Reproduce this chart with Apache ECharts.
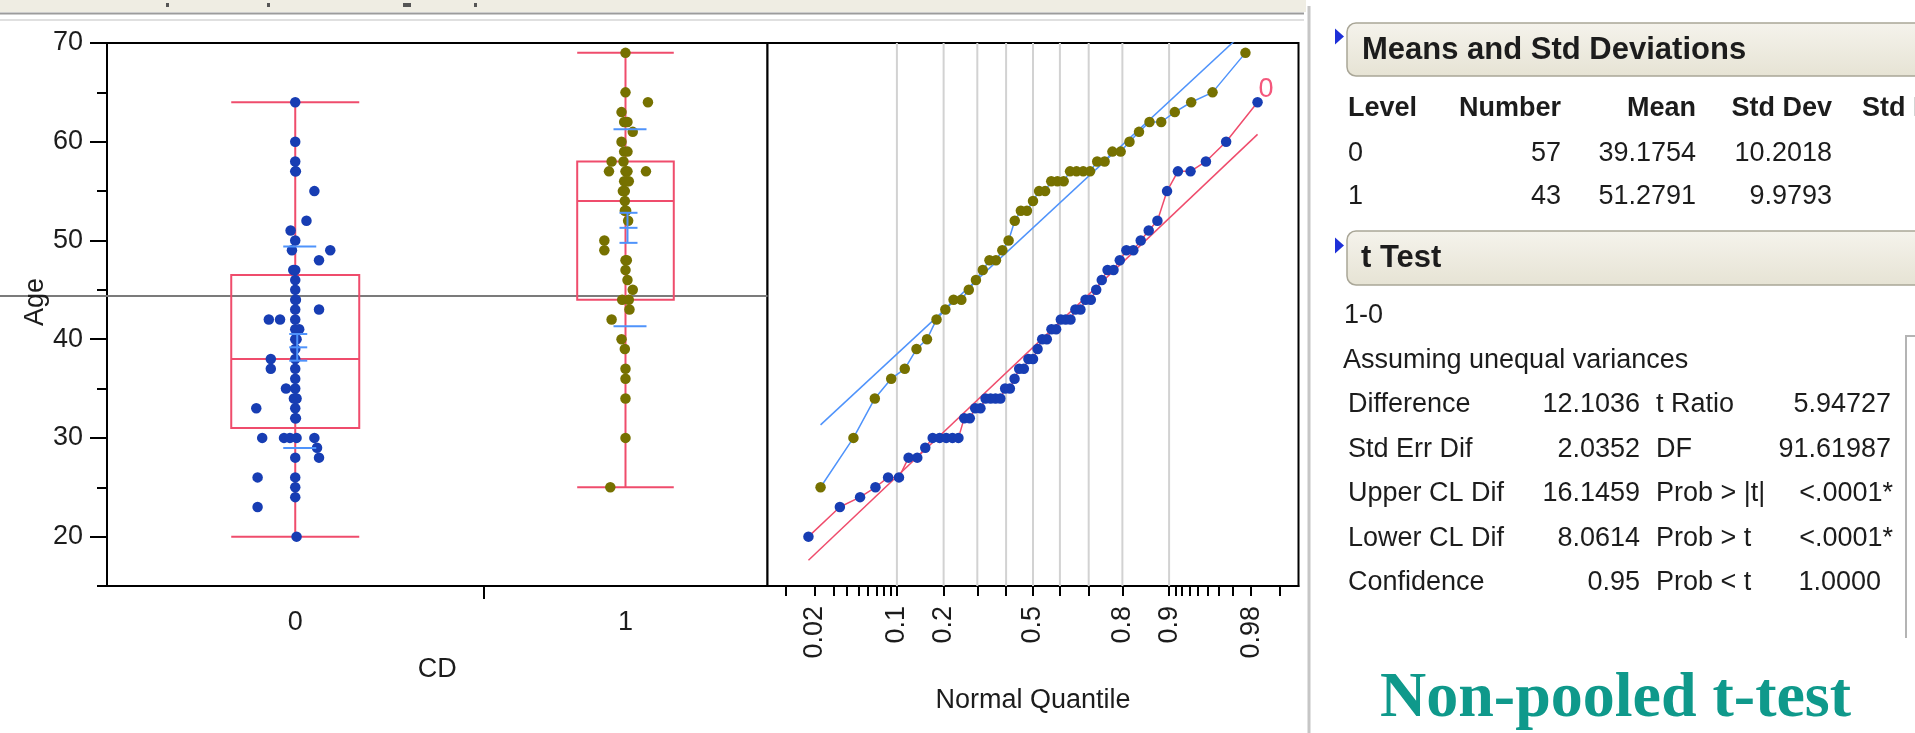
<!DOCTYPE html>
<html><head><meta charset="utf-8">
<script src="https://cdn.jsdelivr.net/npm/echarts@6/dist/echarts.min.js"></script>
<style>html,body{margin:0;padding:0;background:#fff;overflow:hidden}#c{width:1915px;height:733px}</style>
</head><body><div id="c"></div>
<script>
// ---------------- data ----------------
const groups = ['0', '1'];
const counts = [57, 43];
const age0 = [20,23,24,25,26,26,28,28,29,30,30,30,30,30,32,32,33,33,34,34,34,34,35,35,36,37,37,38,38,39,40,40,41,41,42,42,42,43,43,44,44,45,46,47,47,48,49,49,50,51,52,55,57,57,58,60,64];
const jitter0 = [0.2,-5.7,0,0,-5.7,0,0,3.6,3.3,-5.0,-1.7,-0.8,0.2,2.9,0,0.1,-5.9,0,0,0.2,-0.2,0.1,-1.4,0,0,-3.7,0,-3.7,0,0,0,0.2,0.6,0,-4.0,-2.3,0,3.6,0,0,0.1,0,0,-0.3,0,3.6,-0.5,5.3,0,-0.7,1.7,2.9,0,0.1,0,0,0];
const age1 = [25,30,34,36,37,39,40,42,43,44,44,45,46,47,48,48,49,50,52,53,53,54,55,55,56,56,56,57,57,57,57,58,58,59,59,60,61,62,62,63,64,65,69];
const jitter1 = [-2.3,0,0,0,0,-0.1,-0.6,-2.1,0.6,-0.5,0.5,1.1,0.3,0,0,0.2,-3.2,-3.2,0.4,-0.1,0.1,-0.1,-0.4,-0.1,-0.2,0.5,0.2,-2.5,0,3.1,0.3,-2.1,-0.3,-0.2,0.3,-0.6,1.1,-0.2,0.3,-0.6,3.4,0,0];
const means = [39.1754, 51.2791];
const stdDevs = [10.2018, 9.9793];
const yMajorTicks = [20, 30, 40, 50, 60, 70];
const yMinorTicks = [15, 25, 35, 45, 55, 65];
const probLabels = [0.02, 0.1, 0.2, 0.5, 0.8, 0.9, 0.98];
const probGrid = [0.1, 0.2, 0.3, 0.4, 0.5, 0.6, 0.7, 0.8, 0.9];
const probTicks = [0.01,0.02,0.03,0.04,0.05,0.06,0.07,0.08,0.09,0.1,0.2,0.3,0.4,0.5,0.6,0.7,0.8,0.9,0.91,0.92,0.93,0.94,0.95,0.96,0.97,0.98,0.99];
const tableHeader = ['Level', 'Number', 'Mean', 'Std Dev', 'Std Err'];
const ttestLabels = ['Difference', 'Std Err Dif', 'Upper CL Dif', 'Lower CL Dif', 'Confidence'];
const ttestValues = ['12.1036', '2.0352', '16.1459', '8.0614', '0.95'];
const ttestLabels2 = ['t Ratio', 'DF', 'Prob > |t|', 'Prob > t', 'Prob < t'];
const ttestValues2 = ['5.94727', '91.61987', '<.0001*', '<.0001*', '1.0000'];

// ---------------- helpers ----------------
function qnorm(p) {
  const a=[-3.969683028665376e+01,2.209460984245205e+02,-2.759285104469687e+02,1.383577518672690e+02,-3.066479806614716e+01,2.506628277459239e+00];
  const b=[-5.447609879822406e+01,1.615858368580409e+02,-1.556989798598866e+02,6.680131188771972e+01,-1.328068155288572e+01];
  const c=[-7.784894002430293e-03,-3.223964580411365e-01,-2.400758277161838e+00,-2.549671010229416e+00,4.374664141464968e+00,2.938163982698783e+00];
  const d=[7.784695709041462e-03,3.224671290700398e-01,2.445134137142996e+00,3.754408661907416e+00];
  const pl=0.02425, ph=1-pl; let q, r;
  if (p < pl) { q=Math.sqrt(-2*Math.log(p)); return (((((c[0]*q+c[1])*q+c[2])*q+c[3])*q+c[4])*q+c[5])/((((d[0]*q+d[1])*q+d[2])*q+d[3])*q+1); }
  if (p <= ph) { q=p-0.5; r=q*q; return (((((a[0]*r+a[1])*r+a[2])*r+a[3])*r+a[4])*r+a[5])*q/(((((b[0]*r+b[1])*r+b[2])*r+b[3])*r+b[4])*r+1); }
  q=Math.sqrt(-2*Math.log(1-p)); return -(((((c[0]*q+c[1])*q+c[2])*q+c[3])*q+c[4])*q+c[5])/((((d[0]*q+d[1])*q+d[2])*q+d[3])*q+1);
}
function quant(s, p) {
  const n = s.length, pos = p*(n+1), lo = Math.floor(pos), f = pos-lo;
  if (lo < 1) return s[0]; if (lo >= n) return s[n-1];
  return s[lo-1] + f*(s[lo]-s[lo-1]);
}
const ages = [age0, age1];
const jitters = [jitter0, jitter1];
const total = counts[0] + counts[1];
const starts = [0, counts[0]];
const centers = counts.map((n, i) => starts[i] + n/2);
const BOX_FRAC = 0.34;
const boxData = ages.map((arr, g) => {
  const s = arr.slice().sort((x, y) => x - y);
  const q1 = quant(s, 0.25), md = quant(s, 0.5), q3 = quant(s, 0.75), iqr = q3 - q1;
  const lo = s.find(v => v >= q1 - 1.5*iqr), hi = s.filter(v => v <= q3 + 1.5*iqr).pop();
  return [centers[g], q1, md, q3, lo, hi, BOX_FRAC*counts[g]/2];
});
const meanData = means.map((m, g) => [centers[g], m, stdDevs[g], stdDevs[g]/Math.sqrt(counts[g])]);
const grandMean = (means[0]*counts[0] + means[1]*counts[1]) / total;

const BLUE = '#173db3', OLIVE = '#767100', RED = '#ef4c6c', LBLUE = '#4f93fb';
const PT_COLORS = [BLUE, OLIVE], LINE_COLORS = [RED, LBLUE];
const FONT = '"Liberation Sans", Arial, sans-serif';
const TXT = '#1c1c1c';
const DOT = 10.5;

function renderBox(params, api) {
  const cx = api.coord([api.value(0), api.value(2)])[0];
  const hw = api.size([api.value(6), 0])[0];
  const y = v => api.coord([api.value(0), v])[1];
  const q1 = y(api.value(1)), md = y(api.value(2)), q3 = y(api.value(3)), lo = y(api.value(4)), hi = y(api.value(5));
  const st = {stroke: RED, lineWidth: 2};
  return {type: 'group', children: [
    {type: 'line', shape: {x1: cx, y1: lo, x2: cx, y2: hi}, style: st},
    {type: 'line', shape: {x1: cx-hw, y1: lo, x2: cx+hw, y2: lo}, style: st},
    {type: 'line', shape: {x1: cx-hw, y1: hi, x2: cx+hw, y2: hi}, style: st},
    {type: 'rect', shape: {x: cx-hw, y: q3, width: 2*hw, height: q1-q3}, style: {stroke: RED, lineWidth: 2, fill: 'transparent'}},
    {type: 'line', shape: {x1: cx-hw, y1: md, x2: cx+hw, y2: md}, style: st}
  ]};
}
function renderMean(params, api) {
  const cx = api.coord([api.value(0), 40])[0];
  const m = api.value(1), s = api.value(2), se = api.value(3);
  const y = v => api.coord([api.value(0), v])[1];
  const st = {stroke: LBLUE, lineWidth: 2};
  const h = (yy, a, b) => ({type: 'line', shape: {x1: cx+a, y1: yy, x2: cx+b, y2: yy}, style: st});
  return {type: 'group', children: [
    h(y(m+s), -12, 21), h(y(m-s), -12, 21), h(y(m+se), -6, 12), h(y(m), -6, 12), h(y(m-se), -6, 12),
    {type: 'line', shape: {x1: cx+2, y1: y(m+se), x2: cx+2, y2: y(m-se)}, style: st}
  ]};
}
function renderGridLine(params, api) {
  const cs = params.coordSys;
  const x = api.coord([api.value(0), 40])[0];
  return {type: 'line', shape: {x1: x, y1: cs.y, x2: x, y2: cs.y + cs.height}, style: {stroke: '#d2d2d2', lineWidth: 2}};
}

const series = [];
series.push({type: 'custom', xAxisIndex: 0, yAxisIndex: 0, z: 2, silent: true, renderItem: renderBox, data: boxData, encode: {x: 0, y: 2}});
ages.forEach((arr, g) => series.push({
  type: 'scatter', xAxisIndex: 0, yAxisIndex: 0, z: 3, symbol: 'circle', symbolSize: DOT, silent: true,
  itemStyle: {color: PT_COLORS[g], opacity: 1},
  data: arr.map((v, i) => [centers[g] + jitters[g][i], v])
}));
series.push({type: 'custom', xAxisIndex: 0, yAxisIndex: 0, z: 4, silent: true, renderItem: renderMean, data: meanData, encode: {x: 0, y: 1}});

// Normal quantile plot
series.push({type: 'custom', xAxisIndex: 1, yAxisIndex: 2, z: 1, silent: true, renderItem: renderGridLine, data: probGrid.map(p => [qnorm(p), 40]), encode: {x: 0, y: 1}});
ages.forEach((arr, g) => {
  const s = arr.slice().sort((x, y) => x - y), n = s.length;
  const pts = s.map((v, i) => [qnorm((i+1)/(n+1)), v]);
  const z1 = pts[0][0], zn = pts[n-1][0];
  series.push({type: 'line', xAxisIndex: 1, yAxisIndex: 2, z: 2, silent: true, showSymbol: false, symbol: 'none',
    lineStyle: {color: LINE_COLORS[g], width: 1.5},
    data: [[z1, means[g] + stdDevs[g]*z1], [zn, means[g] + stdDevs[g]*zn]]});
  series.push({type: 'line', xAxisIndex: 1, yAxisIndex: 2, z: 3, silent: true, showSymbol: false, symbol: 'none',
    lineStyle: {color: LINE_COLORS[g], width: 1.5}, data: pts,
    endLabel: g === 0 ? {show: true, formatter: groups[g], color: '#f4587c', fontSize: 27, fontFamily: FONT, offset: [-7, -13]} : {show: false}});
  series.push({type: 'scatter', xAxisIndex: 1, yAxisIndex: 2, z: 4, symbol: 'circle', symbolSize: DOT, silent: true,
    itemStyle: {color: PT_COLORS[g], opacity: 1}, data: pts});
});

const labelStyle = {fontSize: 27, fontFamily: FONT, color: TXT};
const chart = echarts.init(document.getElementById('c'), null, {renderer: 'canvas'});
chart.setOption({
  animation: false,
  backgroundColor: '#ffffff',
  grid: [
    {left: 107, top: 43, width: 660.5, height: 543, show: true, borderColor: '#000', borderWidth: 2, backgroundColor: '#fff'},
    {left: 767.5, top: 43, width: 531, height: 543, show: true, borderColor: '#000', borderWidth: 2, backgroundColor: '#fff'}
  ],
  xAxis: [
    {gridIndex: 0, type: 'value', min: 0, max: total, position: 'bottom',
      axisLine: {show: true, onZero: false, lineStyle: {color: '#000', width: 2}},
      axisTick: {show: true, customValues: [counts[0]], length: 13, lineStyle: {color: '#000', width: 2}},
      axisLabel: Object.assign({customValues: centers, margin: 23,
        formatter: v => groups[centers.findIndex(c => Math.abs(c - v) < 1e-6)] || ''}, labelStyle),
      splitLine: {show: false},
      name: 'CD', nameLocation: 'middle', nameGap: 70, nameTextStyle: labelStyle},
    {gridIndex: 1, type: 'value', min: -2.5, max: 2.5, position: 'bottom',
      axisLine: {show: true, onZero: false, lineStyle: {color: '#000', width: 2}},
      axisTick: {show: true, customValues: probTicks.map(qnorm), length: 10, lineStyle: {color: '#000', width: 2}},
      axisLabel: Object.assign({customValues: probLabels.map(qnorm), rotate: 90, margin: 20,
        formatter: v => { let b = 0; probLabels.forEach((p, i) => { if (Math.abs(qnorm(p) - v) < Math.abs(qnorm(probLabels[b]) - v)) b = i; }); return String(probLabels[b]); }}, labelStyle),
      splitLine: {show: false},
      name: 'Normal Quantile', nameLocation: 'middle', nameGap: 101, nameTextStyle: labelStyle}
  ],
  yAxis: [
    {gridIndex: 0, type: 'value', min: 15, max: 70, interval: 5, position: 'left', offset: 0,
      axisLine: {show: true, lineStyle: {color: '#000', width: 2}},
      axisTick: {show: true, customValues: yMajorTicks, length: 17, lineStyle: {color: '#000', width: 2}},
      axisLabel: Object.assign({customValues: yMajorTicks, margin: 24}, labelStyle),
      splitLine: {show: false}},
    {gridIndex: 0, type: 'value', min: 15, max: 70, interval: 5, position: 'left', offset: 0,
      axisLine: {show: false},
      axisTick: {show: true, customValues: yMinorTicks, length: 10, lineStyle: {color: '#000', width: 2}},
      axisLabel: {show: false}, splitLine: {show: false}},
    {gridIndex: 1, type: 'value', min: 15, max: 70, interval: 5, show: false, splitLine: {show: false}}
  ],
  series: series
});

// ---------------- overlay graphics (table, frames) ----------------
const pMean = chart.convertToPixel({xAxisIndex: 0, yAxisIndex: 0}, [total, grandMean]);
const gr = [];
// window chrome at top
gr.push({type: 'rect', shape: {x: 0, y: 0, width: 1306, height: 12}, style: {fill: '#efede3'}, z: 5});
gr.push({type: 'line', shape: {x1: 0, y1: 13.5, x2: 1304, y2: 13.5}, style: {stroke: '#9c9c9c', lineWidth: 2}, z: 5});
gr.push({type: 'line', shape: {x1: 0, y1: 20, x2: 1304, y2: 20}, style: {stroke: '#d6d6d6', lineWidth: 1.5}, z: 5});
[[166, 3], [267, 3], [403, 8], [474, 3]].forEach(m => gr.push({type: 'rect', shape: {x: m[0], y: 3, width: m[1], height: 4}, style: {fill: '#555'}, z: 5}));
gr.push({type: 'line', shape: {x1: 1309, y1: 6, x2: 1309, y2: 733}, style: {stroke: '#c6c6c6', lineWidth: 3}, z: 5});
// grand mean line
gr.push({type: 'line', shape: {x1: 0, y1: pMean[1], x2: pMean[0], y2: pMean[1]}, style: {stroke: '#7b7b7b', lineWidth: 2}, z: 1});
// y axis title
gr.push({type: 'text', x: 36, y: 302, rotation: Math.PI/2, z: 6,
  style: {text: 'Age', font: '27px "Liberation Sans", Arial, sans-serif', fill: TXT, align: 'center', verticalAlign: 'middle'}});

// header boxes
function headerBox(y, h) {
  gr.push({type: 'rect', shape: {x: 1347, y: y, width: 620, height: h, r: [9, 0, 0, 9]},
    style: {fill: new echarts.graphic.LinearGradient(0, 0, 0, 1, [{offset: 0, color: '#f5f3ec'}, {offset: 1, color: '#e6e3d4'}]), stroke: '#a9a697', lineWidth: 1.5}, z: 5});
}
headerBox(23, 53); headerBox(231, 54);
[[36.5], [245.5]].forEach(t => gr.push({type: 'polygon', shape: {points: [[1335, t[0]-8], [1344, t[0]], [1335, t[0]+8]]}, style: {fill: '#1e30d8'}, z: 6}));
const T = (text, x, y, font, align, fill) => gr.push({type: 'text', x: x, y: y, z: 7,
  style: {text: text, font: font, fill: fill || TXT, align: align || 'left', verticalAlign: 'middle'}});
const F = '27px "Liberation Sans", Arial, sans-serif';
const FB = 'bold 27px "Liberation Sans", Arial, sans-serif';
const FH = 'bold 31px "Liberation Sans", Arial, sans-serif';
T('Means and Std Deviations', 1362, 50, FH);
T(tableHeader[0], 1348, 109, FB);
T(tableHeader[1], 1561, 109, FB, 'right');
T(tableHeader[2], 1696, 109, FB, 'right');
T(tableHeader[3], 1832, 109, FB, 'right');
T(tableHeader[4], 1862, 109, FB);
[154, 197].forEach((y, g) => {
  T(groups[g], 1348, y, F);
  T(String(counts[g]), 1561, y, F, 'right');
  T(means[g].toFixed(4), 1696, y, F, 'right');
  T(stdDevs[g].toFixed(4), 1832, y, F, 'right');
});
T('t Test', 1361, 258, FH);
T('1-0', 1344, 316, F);
T('Assuming unequal variances', 1343, 361, F);
const rowY = [405, 450, 494, 539, 583];
const v2Right = [1891, 1891, 1893, 1893, 1881];
rowY.forEach((y, i) => {
  T(ttestLabels[i], 1348, y, F);
  T(ttestValues[i], 1640, y, F, 'right');
  T(ttestLabels2[i], 1656, y, F);
  T(ttestValues2[i], v2Right[i], y, F, 'right');
});
gr.push({type: 'polyline', shape: {points: [[1915, 336], [1906, 336], [1906, 638]]}, style: {stroke: '#b4b4b4', lineWidth: 2, fill: 'transparent'}, z: 5});
T('Non-pooled t-test', 1380, 699, 'bold 64px "Liberation Serif", "Times New Roman", serif', 'left', '#0f998b');

chart.setOption({graphic: gr});
</script>
</body></html>
